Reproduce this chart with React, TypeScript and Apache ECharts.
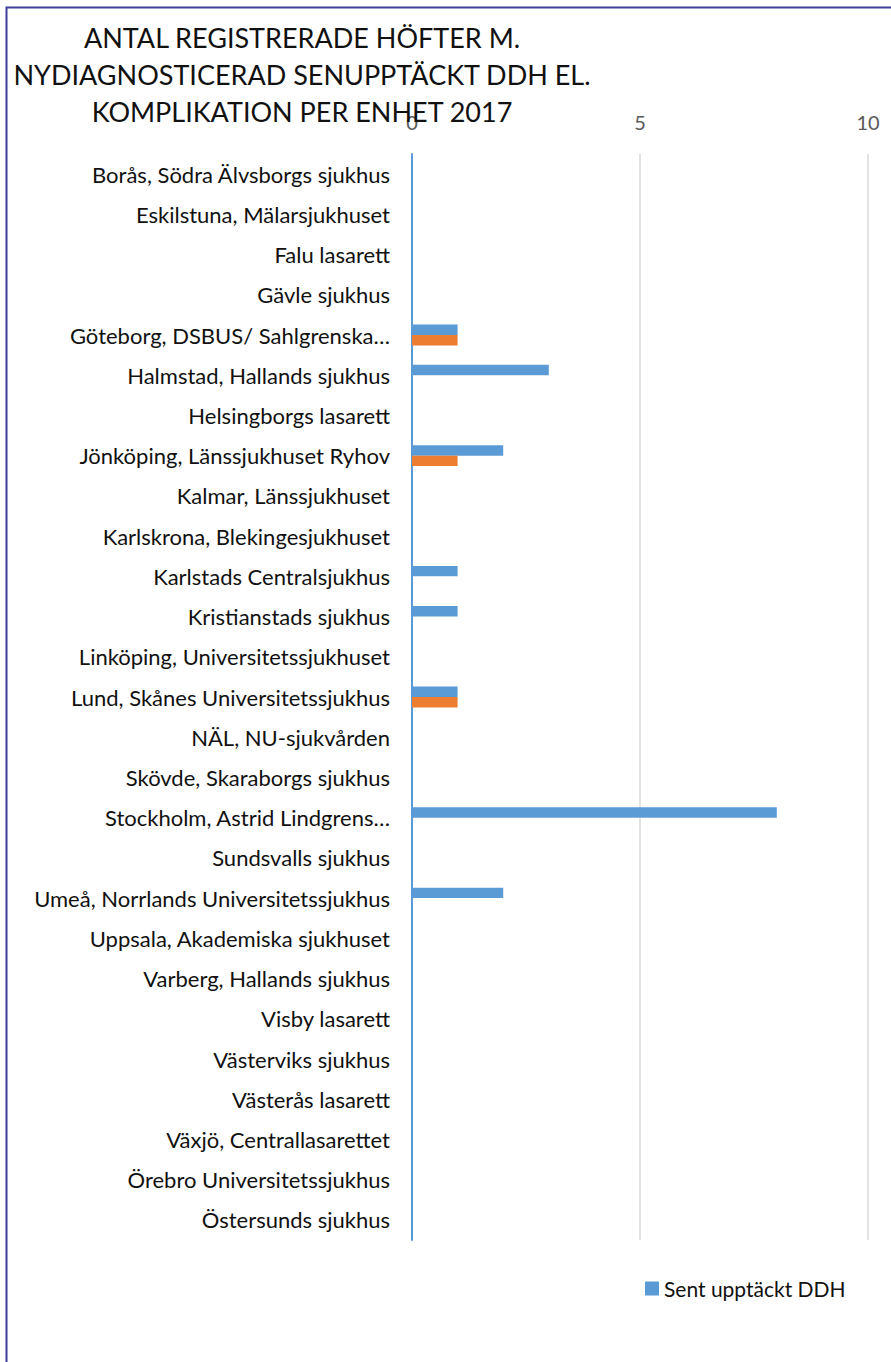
import React, { useEffect, useRef } from "react";
import * as echarts from "echarts";

const titleLines = [
  "ANTAL REGISTRERADE HÖFTER M.",
  "NYDIAGNOSTICERAD SENUPPTÄCKT DDH EL.",
  "KOMPLIKATION PER ENHET 2017",
];

const categories = [
  "Borås, Södra Älvsborgs sjukhus",
  "Eskilstuna, Mälarsjukhuset",
  "Falu lasarett",
  "Gävle sjukhus",
  "Göteborg, DSBUS/ Sahlgrenska…",
  "Halmstad, Hallands sjukhus",
  "Helsingborgs lasarett",
  "Jönköping, Länssjukhuset Ryhov",
  "Kalmar, Länssjukhuset",
  "Karlskrona, Blekingesjukhuset",
  "Karlstads Centralsjukhus",
  "Kristianstads sjukhus",
  "Linköping, Universitetssjukhuset",
  "Lund, Skånes Universitetssjukhus",
  "NÄL, NU-sjukvården",
  "Skövde, Skaraborgs sjukhus",
  "Stockholm, Astrid Lindgrens…",
  "Sundsvalls sjukhus",
  "Umeå, Norrlands Universitetssjukhus",
  "Uppsala, Akademiska sjukhuset",
  "Varberg, Hallands sjukhus",
  "Visby lasarett",
  "Västerviks sjukhus",
  "Västerås lasarett",
  "Växjö, Centrallasarettet",
  "Örebro Universitetssjukhus",
  "Östersunds sjukhus",
];

const seriesNames = ["Sent upptäckt DDH", "Komplikation"];

const sentUpptacktDDH = [0, 0, 0, 0, 1, 3, 0, 2, 0, 0, 1, 1, 0, 1, 0, 0, 8, 0, 2, 0, 0, 0, 0, 0, 0, 0, 0];
const komplikation = [0, 0, 0, 0, 1, 0, 0, 1, 0, 0, 0, 0, 0, 1, 0, 0, 0, 0, 0, 0, 0, 0, 0, 0, 0, 0, 0];

const xMin = 0;
const xMax = 10;
const xInterval = 5;

const FONT = "Lato, 'Open Sans', sans-serif";

export default function App() {
  const ref = useRef<HTMLDivElement>(null);

  useEffect(() => {
    if (!ref.current) return;
    const chart = echarts.init(ref.current, undefined, { renderer: "svg" });
    chart.setOption({
      animation: false,
      backgroundColor: "#ffffff",
      textStyle: { fontFamily: FONT },
      title: {
        text: titleLines.join("\n"),
        left: 302,
        top: 19,
        padding: 0,
        textAlign: "center",
        textStyle: {
          fontFamily: FONT,
          fontWeight: 400,
          fontSize: 27,
          lineHeight: 37,
          color: "#111111",
        },
      },
      legend: {
        data: [seriesNames[0]],
        left: 645,
        top: 1278,
        icon: "rect",
        itemWidth: 14,
        itemHeight: 14,
        itemGap: 6,
        padding: 0,
        textStyle: { fontFamily: FONT, fontSize: 21, color: "#111111" },
      },
      grid: {
        left: 412,
        right: 23,
        top: 154,
        bottom: 122,
        containLabel: false,
      },
      xAxis: {
        type: "value",
        position: "top",
        min: xMin,
        max: xMax,
        interval: xInterval,
        axisLine: { show: false },
        axisTick: { show: false },
        axisLabel: { color: "#595959", fontSize: 20, margin: 22, fontFamily: FONT },
        splitLine: { show: true, lineStyle: { color: "#d9d9d9", width: 1.5 } },
      },
      yAxis: {
        type: "category",
        data: categories,
        inverse: true,
        axisLine: { show: true, lineStyle: { color: "#5B9BD5", width: 2 } },
        axisTick: { show: false },
        axisLabel: { color: "#111111", fontSize: 22, margin: 22, fontFamily: FONT },
        splitLine: { show: false },
      },
      graphic: [
        {
          type: "rect",
          shape: { x: 6.5, y: 7.5, width: 920, height: 1420 },
          style: { fill: "none", stroke: "#3F3F99", lineWidth: 2 },
          silent: true,
          z: 100,
        },
      ],
      series: [
        {
          name: seriesNames[0],
          type: "bar",
          data: sentUpptacktDDH,
          barGap: "0%",
          barCategoryGap: "48%",
          itemStyle: { color: "#5B9BD5" },
        },
        {
          name: seriesNames[1],
          type: "bar",
          data: komplikation,
          barGap: "0%",
          barCategoryGap: "48%",
          itemStyle: { color: "#ED7D31" },
        },
      ],
    });
    return () => chart.dispose();
  }, []);

  return (
    <div
      ref={ref}
      style={{ position: "absolute", left: 0, top: 0, width: 891, height: 1362 }}
    />
  );
}
